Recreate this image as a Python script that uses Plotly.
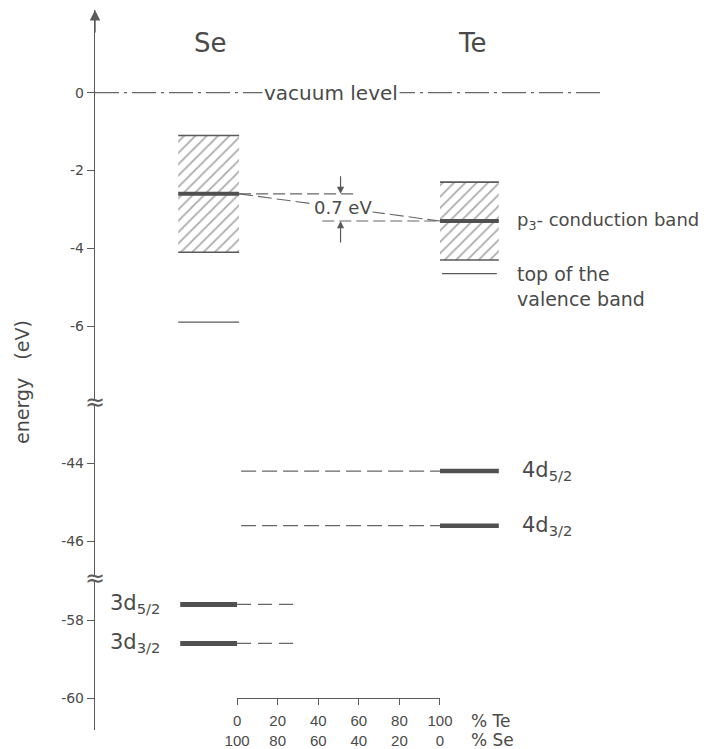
import plotly.graph_objects as go

# ---------------- data (energies in eV, composition in %) ----------------
se_cols = [-29, 1]            # Se column extent on the composition scale
te_cols = [100, 129]          # Te column extent
se_band = [-1.1, -4.1]        # Se p3 band (top, bottom)
te_band = [-2.3, -4.3]        # Te p3 band (top, bottom)
se_p3 = -2.6
te_p3 = -3.3
se_valence = -5.9
te_valence = -4.65
vacuum = 0.0
te_4d = [-44.2, -45.6]
te_4d_labels = ["4d<sub>5/2</sub>", "4d<sub>3/2</sub>"]
se_3d = [-57.6, -58.6]
se_3d_labels = ["3d<sub>5/2</sub>", "3d<sub>3/2</sub>"]
pct_te = [0, 20, 40, 60, 80, 100]
pct_se = [100, 80, 60, 40, 20, 0]
ticks_top = [0, -2, -4, -6]
ticks_mid = [-44, -46]
ticks_bot = [-58, -60]
gap_label = "0.7 eV"

# ---------------- layout constants ----------------
# page body has an 8px margin: figure is drawn 8px in from the window corner
W, H = 710, 741
ML, MR, MT, MB = 87, 0, 2, 19
XR = [-70, 237]
PH = H - MT - MB            # 720
PW = W - ML - MR            # 623
SB = 730.0                  # screen y of the plot-area bottom
SL = 95.0                   # screen x of the plot-area left edge
INK = "#4a4a4a"
LINE = "#5a5a5a"
FONT = "DejaVu Sans"

def pf(sy):
    return (SB - sy) / PH

def pxf(sx):
    return (sx - SL) / PW

# screen boundaries of the three axis segments
b1, b2 = 402.0, 578.3
dom_top = [pf(b1), 1.0]
dom_mid = [pf(b2), pf(b1)]
dom_bot = [0.0, pf(b2)]

s1, s2 = 38.9, 39.0          # px per eV
r_top = [-(b1 - 92.7) / s1, (92.7 - 10.0) / s1]
r_mid = [-44 - (b2 - 463.3) / s2, -44 + (463.3 - b1) / s2]
r_bot = [-58 - (SB - 620.0) / s2, -58 + (620.0 - b2) / s2]

fig = go.Figure()

TOP, MID, BOT = ("x", "y"), ("x2", "y2"), ("x3", "y3")

def hline(x0, x1, y, ax, width=1.3, dash="solid", color=LINE):
    fig.add_trace(go.Scatter(x=[x0, x1], y=[y, y], mode="lines",
                             line=dict(color=color, width=width, dash=dash),
                             xaxis=ax[0], yaxis=ax[1], hoverinfo="skip",
                             showlegend=False))

# hatched bands
for cols, band in ((se_cols, se_band), (te_cols, te_band)):
    fig.add_trace(go.Scatter(
        x=[cols[0], cols[1], cols[1], cols[0], cols[0]],
        y=[band[0], band[0], band[1], band[1], band[0]],
        mode="lines", fill="toself", line=dict(width=0),
        fillcolor="white",
        fillpattern=dict(shape="/", fgcolor="#555555", bgcolor="white",
                         size=8, solidity=0.22),
        xaxis="x", yaxis="y", hoverinfo="skip", showlegend=False))
    hline(cols[0], cols[1], band[0], TOP, 1.6)
    hline(cols[0], cols[1], band[1], TOP, 1.6)

# vacuum level
hline(XR[0], 180, vacuum, TOP, 1.2, "24px,5px,3px,5px", "#666")

# 0.7 eV construction
hline(se_cols[1], 58, se_p3, TOP, 1.1, "12px,5px", "#666")
hline(42, te_cols[0], te_p3, TOP, 1.1, "12px,5px", "#666")
fig.add_trace(go.Scatter(x=[se_cols[1], te_cols[0]], y=[se_p3, te_p3], mode="lines",
                         line=dict(color="#666", width=1.1, dash="14px,5px"),
                         xaxis="x", yaxis="y", hoverinfo="skip", showlegend=False))

# p3 levels and valence band tops
hline(se_cols[0], se_cols[1], se_p3, TOP, 4, color="#505050")
hline(te_cols[0], te_cols[1], te_p3, TOP, 4, color="#505050")
hline(se_cols[0], se_cols[1], se_valence, TOP, 1.3)
hline(te_cols[0] + 1, te_cols[1] - 1, te_valence, TOP, 1.3)

# Te 4d levels
for e in te_4d:
    hline(2, te_cols[0], e, MID, 1.2, "15px,6px", "#666")
    hline(te_cols[0], te_cols[1], e, MID, 4.5, color="#505050")

# Se 3d levels
for e in se_3d:
    hline(se_cols[0] + 1, 0, e, BOT, 5, color="#505050")
    hline(0, 29, e, BOT, 1.2, "14px,7px", "#666")

# dummy trace to carry the composition axis
fig.add_trace(go.Scatter(x=pct_te, y=[None] * len(pct_te), mode="lines",
                         xaxis="x4", yaxis="y3", hoverinfo="skip", showlegend=False))

yax = dict(showline=True, linecolor=LINE, linewidth=1.4, ticks="outside",
           ticklen=7, tickwidth=1.2, tickcolor=LINE, showgrid=False,
           zeroline=False, tickfont=dict(size=14, color=INK, family=FONT),
           fixedrange=True, automargin=False)
xax = dict(range=XR, visible=False, fixedrange=True, domain=[0, 1], automargin=False)

pos_axis = dom_bot[0] + (-60 - r_bot[0]) / (r_bot[1] - r_bot[0]) * (dom_bot[1] - dom_bot[0])
x4_dom = [(0 - XR[0]) / (XR[1] - XR[0]), (100 - XR[0]) / (XR[1] - XR[0])]

fig.update_layout(
    width=W, height=H,
    margin=dict(l=ML, r=MR, t=MT, b=MB),
    paper_bgcolor="white", plot_bgcolor="rgba(0,0,0,0)",
    font=dict(family=FONT, color=INK),
    xaxis=dict(xax, anchor="y"),
    xaxis2=dict(xax, anchor="y2"),
    xaxis3=dict(xax, anchor="y3"),
    xaxis4=dict(domain=x4_dom, range=[0, 100], anchor="free", position=pos_axis,
                showline=True, linecolor=LINE, linewidth=1.3, ticks="outside",
                ticklen=6, tickwidth=1.2, tickcolor=LINE, showgrid=False,
                zeroline=False, tickvals=pct_te,
                ticktext=[f"{a}<br>{b}" for a, b in zip(pct_te, pct_se)],
                tickfont=dict(size=15, color=INK, family="Liberation Sans"),
                ticklabelstandoff=3, automargin=False, fixedrange=True),
    yaxis=dict(yax, domain=dom_top, range=r_top, anchor="x",
               tickvals=ticks_top, ticktext=[str(t) for t in ticks_top]),
    yaxis2=dict(yax, domain=dom_mid, range=r_mid, anchor="x2",
                tickvals=ticks_mid, ticktext=[str(t) for t in ticks_mid]),
    yaxis3=dict(yax, domain=dom_bot, range=r_bot, anchor="x3",
                tickvals=ticks_bot, ticktext=[str(t) for t in ticks_bot]),
    showlegend=False,
)

ann = []
def txt(x, y, s, size=18, xref="x", yref="y", xanchor="center", yanchor="middle", **kw):
    ann.append(dict(x=x, y=y, text=s, xref=xref, yref=yref, showarrow=False,
                    xanchor=xanchor, yanchor=yanchor,
                    font=dict(size=size, color=INK, family=FONT), **kw))

txt(sum(se_cols) / 2 + 1, 1.28, "Se", size=26)
txt(sum(te_cols) / 2 + 1.5, 1.28, "Te", size=26)
txt(46.5, vacuum, "vacuum level", size=20, bgcolor="white", borderpad=1)
txt(52, -2.96, gap_label, size=18, bgcolor="white", borderpad=0)
txt(137, te_p3, "p<sub>3</sub>- conduction band", size=18, xanchor="left")
txt(137, -4.97, "top of the<br>valence band", size=19, xanchor="left", align="left")
for e, lab in zip(te_4d, te_4d_labels):
    txt(139.5, e, lab, size=21, xanchor="left", yref="y2")
for e, lab in zip(se_3d, se_3d_labels):
    txt(-63.5, e, lab, size=21, xanchor="left", yref="y3")
txt(114.5, pf(721), "% Te", size=17, xanchor="left", yref="paper")
txt(114.5, pf(739.5), "% Se", size=17, xanchor="left", yref="paper")
txt(pxf(22), pf(382), "energy   (eV)", size=19,
    xref="paper", yref="paper", textangle=-90)

# arrows for the 0.7 eV gap
ann.append(dict(x=51, y=se_p3, xref="x", yref="y", ax=0, ay=-19, text="",
                showarrow=True, arrowhead=2, arrowsize=1.2, arrowwidth=1.2,
                arrowcolor=LINE))
ann.append(dict(x=51, y=te_p3, xref="x", yref="y", ax=0, ay=23, text="",
                showarrow=True, arrowhead=2, arrowsize=1.2, arrowwidth=1.2,
                arrowcolor=LINE))
# arrow on top of the energy axis
ann.append(dict(x=0, y=1, xref="paper", yref="paper", ax=0, ay=24, text="",
                showarrow=True, arrowhead=2, arrowsize=1.5, arrowwidth=1.4,
                arrowcolor=LINE))

# axis break symbols
shapes = []
for yb in (dom_top[0], dom_mid[0]):
    shapes.append(dict(type="rect", xref="paper", yref="paper",
                       x0=-4 / PW, x1=4 / PW, y0=yb - 2.5 / PH, y1=yb + 2.5 / PH,
                       fillcolor="white", line=dict(width=0), layer="above"))
    ann.append(dict(x=0, y=yb, xref="paper", yref="paper", text="≈",
                    xanchor="center", yanchor="middle", showarrow=False,
                    font=dict(size=24, color=LINE, family=FONT)))

fig.update_layout(annotations=ann, shapes=shapes)
fig.write_html("out.html")
